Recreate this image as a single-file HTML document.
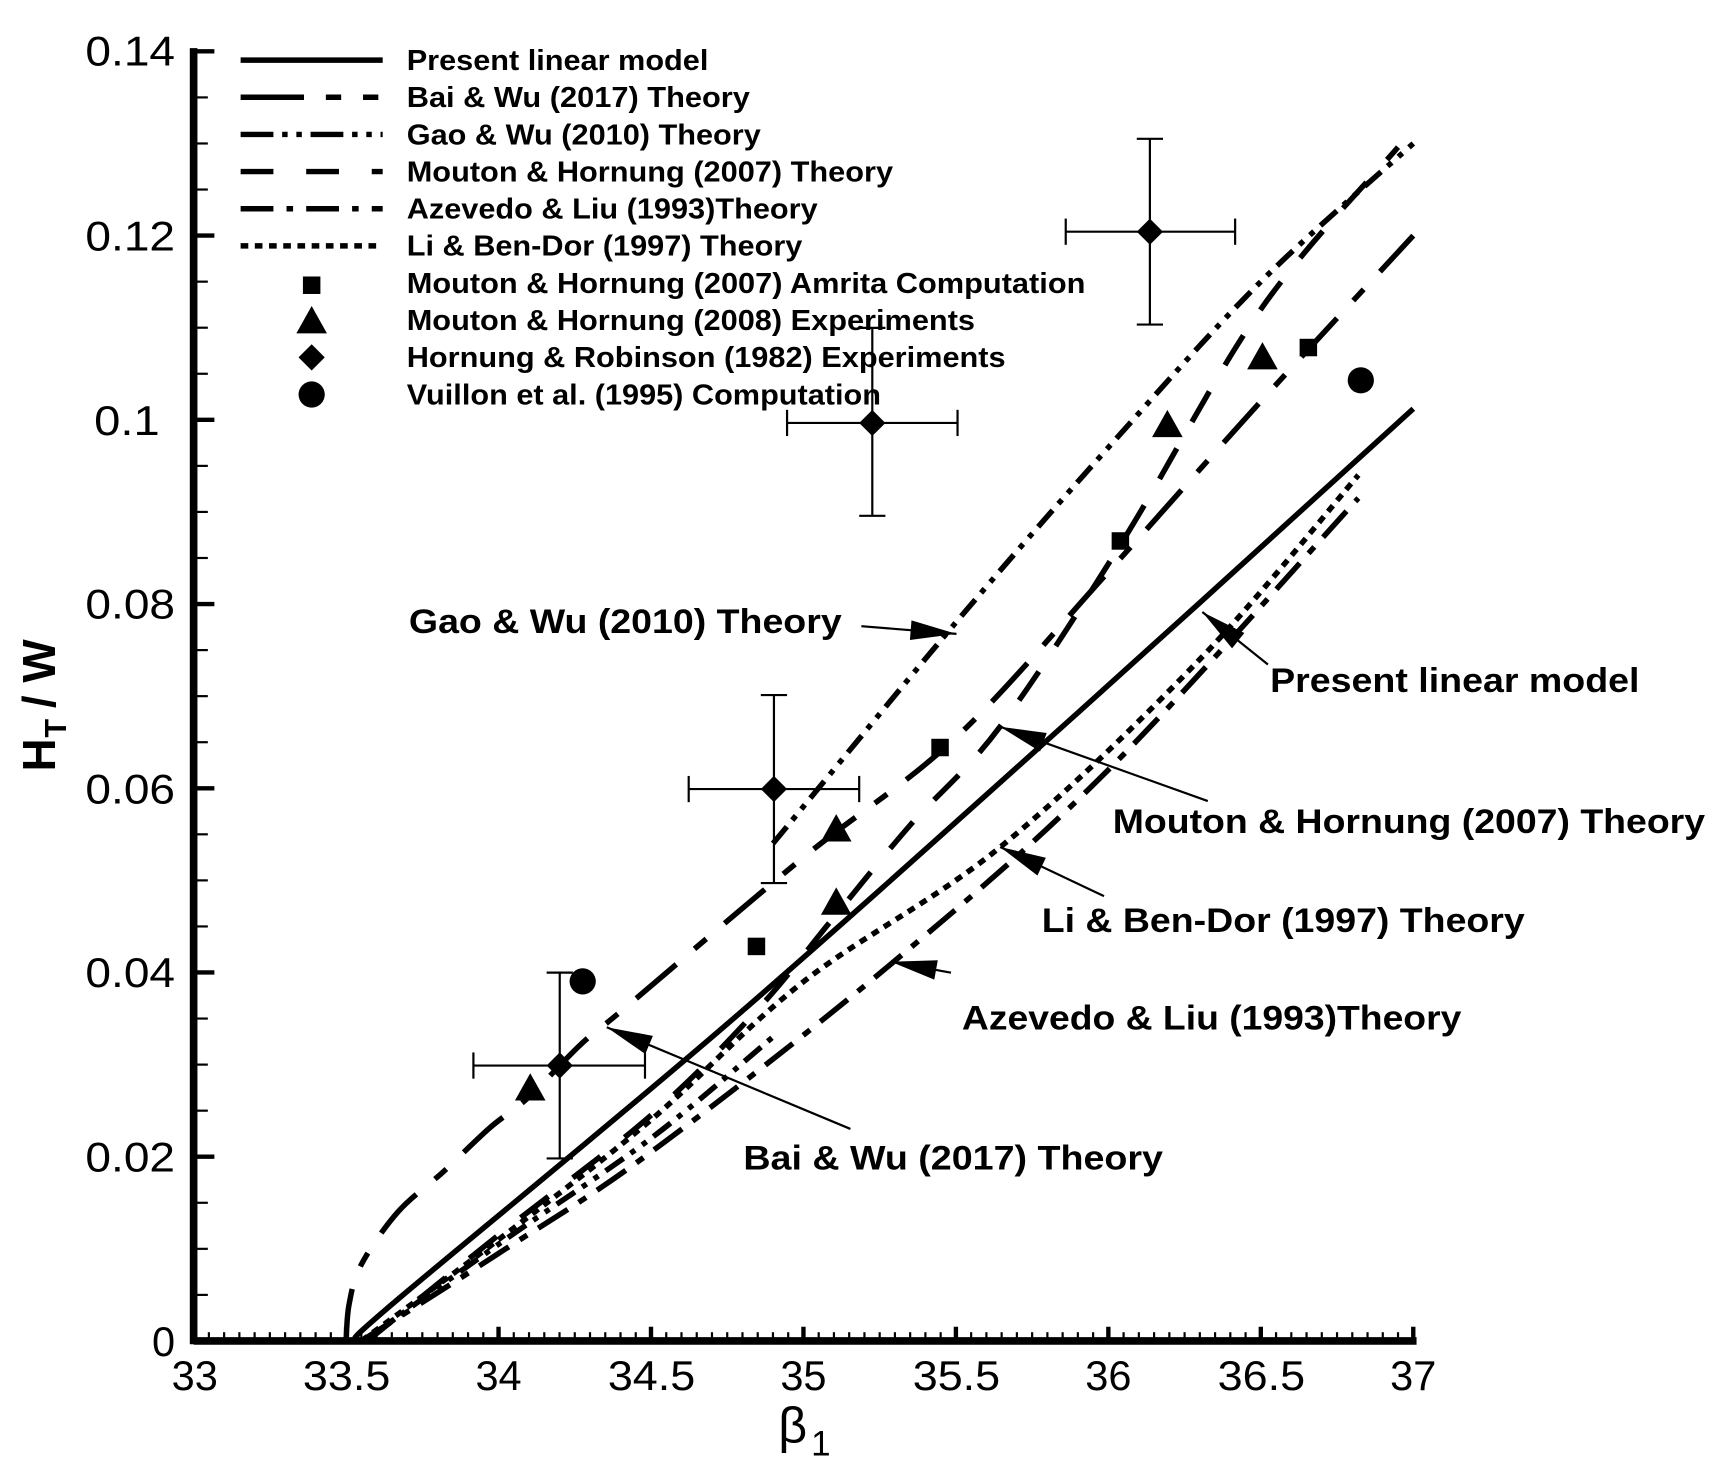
<!DOCTYPE html>
<html><head><meta charset="utf-8"><style>
html,body{margin:0;padding:0;background:#fff}
svg{display:block}
text{font-family:"Liberation Sans",sans-serif;fill:#000}
</style></head><body>
<svg id="s" width="1714" height="1471" viewBox="0 0 1568 1346" xmlns="http://www.w3.org/2000/svg">
<g id="g"></g>
<g font-size="38" text-anchor="end">
<text x="160" y="60" textLength="82" lengthAdjust="spacingAndGlyphs">0.14</text>
<text x="160" y="229" textLength="82" lengthAdjust="spacingAndGlyphs">0.12</text>
<text x="146" y="398" textLength="60" lengthAdjust="spacingAndGlyphs">0.1</text>
<text x="160" y="566" textLength="82" lengthAdjust="spacingAndGlyphs">0.08</text>
<text x="160" y="735" textLength="82" lengthAdjust="spacingAndGlyphs">0.06</text>
<text x="160" y="903" textLength="82" lengthAdjust="spacingAndGlyphs">0.04</text>
<text x="160" y="1072" textLength="82" lengthAdjust="spacingAndGlyphs">0.02</text>
<text x="160" y="1241">0</text>
</g>
<g font-size="38" text-anchor="middle">
<text x="178" y="1272">33</text><text x="317" y="1272" textLength="80" lengthAdjust="spacingAndGlyphs">33.5</text><text x="456" y="1272">34</text>
<text x="596" y="1272" textLength="80" lengthAdjust="spacingAndGlyphs">34.5</text><text x="735" y="1272">35</text><text x="875" y="1272" textLength="80" lengthAdjust="spacingAndGlyphs">35.5</text>
<text x="1014" y="1272">36</text><text x="1154" y="1272" textLength="80" lengthAdjust="spacingAndGlyphs">36.5</text><text x="1293" y="1272">37</text>
</g>
<text x="712" y="1320" font-size="46" font-family="DejaVu Serif, serif">β</text><text x="742" y="1332" font-size="32">1</text>
<g transform="translate(50,640) rotate(-90)"><text x="-66" y="0" font-size="42" font-weight="bold">H</text><text x="-35" y="10" font-size="28" font-weight="bold">T</text><text x="-8" y="0" font-size="42" font-weight="bold">/ W</text></g>
<g font-size="26" font-weight="bold">
<text x="372" y="64" textLength="276" lengthAdjust="spacingAndGlyphs">Present linear model</text>
<text x="372" y="98" textLength="314" lengthAdjust="spacingAndGlyphs">Bai &amp; Wu (2017) Theory</text>
<text x="372" y="132" textLength="324" lengthAdjust="spacingAndGlyphs">Gao &amp; Wu (2010) Theory</text>
<text x="372" y="166" textLength="445" lengthAdjust="spacingAndGlyphs">Mouton &amp; Hornung (2007) Theory</text>
<text x="372" y="200" textLength="376" lengthAdjust="spacingAndGlyphs">Azevedo &amp; Liu (1993)Theory</text>
<text x="372" y="234" textLength="362" lengthAdjust="spacingAndGlyphs">Li &amp; Ben-Dor (1997) Theory</text>
<text x="372" y="268" textLength="621" lengthAdjust="spacingAndGlyphs">Mouton &amp; Hornung (2007) Amrita Computation</text>
<text x="372" y="302" textLength="520" lengthAdjust="spacingAndGlyphs">Mouton &amp; Hornung (2008) Experiments</text>
<text x="372" y="336" textLength="548" lengthAdjust="spacingAndGlyphs">Hornung &amp; Robinson (1982) Experiments</text>
<text x="372" y="370" textLength="434" lengthAdjust="spacingAndGlyphs">Vuillon et al. (1995) Computation</text>
</g>
<g font-size="31" font-weight="bold">
<text x="374" y="579" textLength="396" lengthAdjust="spacingAndGlyphs">Gao &amp; Wu (2010) Theory</text>
<text x="1162" y="633" textLength="338" lengthAdjust="spacingAndGlyphs">Present linear model</text>
<text x="1018" y="762" textLength="542" lengthAdjust="spacingAndGlyphs">Mouton &amp; Hornung (2007) Theory</text>
<text x="953" y="853" textLength="442" lengthAdjust="spacingAndGlyphs">Li &amp; Ben-Dor (1997) Theory</text>
<text x="880" y="942" textLength="457" lengthAdjust="spacingAndGlyphs">Azevedo &amp; Liu (1993)Theory</text>
<text x="680" y="1070" textLength="384" lengthAdjust="spacingAndGlyphs">Bai &amp; Wu (2017) Theory</text>
</g>
</svg>
<script>
const g=document.getElementById('g');
const X=b=>177+(b-33)*279, Y=h=>1227-h*8428.6;
let out='';
function L(x1,y1,x2,y2,w){out+=`<line x1="${x1}" y1="${y1}" x2="${x2}" y2="${y2}" stroke="#000" stroke-width="${w}"/>`;}
L(177,1227,1296,1227,7);L(177,44,177,1230,7);
for(let i=0;i<=80;i++){const x=177+i*(1116/80);const maj=i%10==0;L(x,1227,x,maj?1214:1219,maj?4:2);}
for(let i=0;i<=28;i++){const y=1227-i*(1180/28);const maj=i%4==0;L(177,y,maj?196:190,y,maj?4:2);}
function curve(pts,dash){
 let P=pts.map(p=>[X(p[0]),Y(p[1])]);
 let d=`M${P[0][0]},${P[0][1]}`;
 for(let i=0;i<P.length-1;i++){const p0=P[Math.max(i-1,0)],p1=P[i],p2=P[i+1],p3=P[Math.min(i+2,P.length-1)];
  d+=` C${p1[0]+(p2[0]-p0[0])/6},${p1[1]+(p2[1]-p0[1])/6} ${p2[0]-(p3[0]-p1[0])/6},${p2[1]-(p3[1]-p1[1])/6} ${p2[0]},${p2[1]}`;}
 out+=`<path d="${d}" fill="none" stroke="#000" stroke-width="5" stroke-dasharray="${dash}"/>`;
}
const D={solid:'none',bai:'48 22 14 22',gao:'20 8 5 8 5 8',mou:'32 28',aze:'32 12 8 12',li:'7 6'};
curve([[33.52,0],[33.687,0.005],[34.76,0.0347],[35.9,0.0682],[37,0.1012]],D.solid);
curve([[33.5,0],[33.51,0.004],[33.55,0.0083],[33.67,0.014],[33.82,0.0184],[33.97,0.0231],[34.1,0.0265],[34.27,0.0322],[34.42,0.0363],[35,0.0525],[35.5,0.0655],[36,0.0835],[36.5,0.102],[37,0.12]],D.bai);
curve([[34.9,0.054],[35.5,0.078],[36,0.097],[36.5,0.115],[37,0.130]],D.gao);
curve([[33.56,0],[34,0.0105],[34.5,0.022],[34.9,0.033]],D.gao);
curve([[33.57,0],[34,0.0115],[34.5,0.0245],[34.85,0.036],[35.1,0.046],[35.35,0.056],[35.645,0.0667],[36.05,0.087],[36.5,0.112],[36.95,0.1296]],D.mou);
curve([[33.55,0],[34,0.0095],[34.5,0.0205],[35.29,0.041],[36,0.062],[36.82,0.0915]],D.aze);
curve([[33.55,0],[34,0.011],[34.5,0.024],[35,0.039],[35.645,0.0536],[36.3,0.074],[36.82,0.094]],D.li);
L(220,55,350,55,5);
out+=`<line x1="220" y1="89" x2="350" y2="89" stroke="#000" stroke-width="5" stroke-dasharray="58 20 14 20 14 20"/>`;
out+=`<line x1="220" y1="123" x2="350" y2="123" stroke="#000" stroke-width="5" stroke-dasharray="30 8 5 8 5 8"/>`;
out+=`<line x1="220" y1="157" x2="350" y2="157" stroke="#000" stroke-width="5" stroke-dasharray="30 30"/>`;
out+=`<line x1="220" y1="191" x2="350" y2="191" stroke="#000" stroke-width="5" stroke-dasharray="30 12 6 12"/>`;
out+=`<line x1="220" y1="225" x2="345" y2="225" stroke="#000" stroke-width="5" stroke-dasharray="7 6"/>`;
function sq(x,y){out+=`<rect x="${x-8}" y="${y-8}" width="16" height="16"/>`;}
function tri(x,y){out+=`<polygon points="${x},${y-13} ${x-14},${y+12} ${x+14},${y+12}"/>`;}
function dia(x,y){out+=`<polygon points="${x},${y-12} ${x+12},${y} ${x},${y+12} ${x-12},${y}"/>`;}
function cir(x,y){out+=`<circle cx="${x}" cy="${y}" r="12"/>`;}
sq(285,261);tri(285,293);dia(285,327);cir(285,361);
[[692,866],[860,684],[1025,495],[1197,318]].forEach(p=>sq(...p));
[[485,995],[765,825],[765,758],[1068,388],[1155,326]].forEach(p=>tri(...p));
[[533,898],[1245,348]].forEach(p=>cir(...p));
[[512,975,433,590,890,1060],[708,722,630,786,636,808],[798,387,720,876,300,472],[1052,212,975,1130,127,297]].forEach(e=>{
 const [x,y,x1,x2,y1,y2]=e;L(x1,y,x2,y,2);L(x,y1,x,y2,2);L(x1,y-12,x1,y+12,2);L(x2,y-12,x2,y+12,2);L(x-12,y1,x+12,y1,2);L(x-12,y2,x+12,y2,2);dia(x,y);});
function arr(x1,y1,x2,y2){L(x1,y1,x2,y2,2);const a=Math.atan2(y2-y1,x2-x1),l=42,w=9;
 const bx=x2-l*Math.cos(a),by=y2-l*Math.sin(a),nx=-Math.sin(a)*w,ny=Math.cos(a)*w;
 out+=`<polygon points="${x2},${y2} ${bx+nx},${by+ny} ${bx-nx},${by-ny}"/>`;}
arr(788,573,875,580);arr(1160,608,1100,560);arr(1105,733,915,665);arr(1010,820,915,775);arr(870,890,815,880);arr(778,1033,555,940);
g.innerHTML=out;
</script>
</body></html>
